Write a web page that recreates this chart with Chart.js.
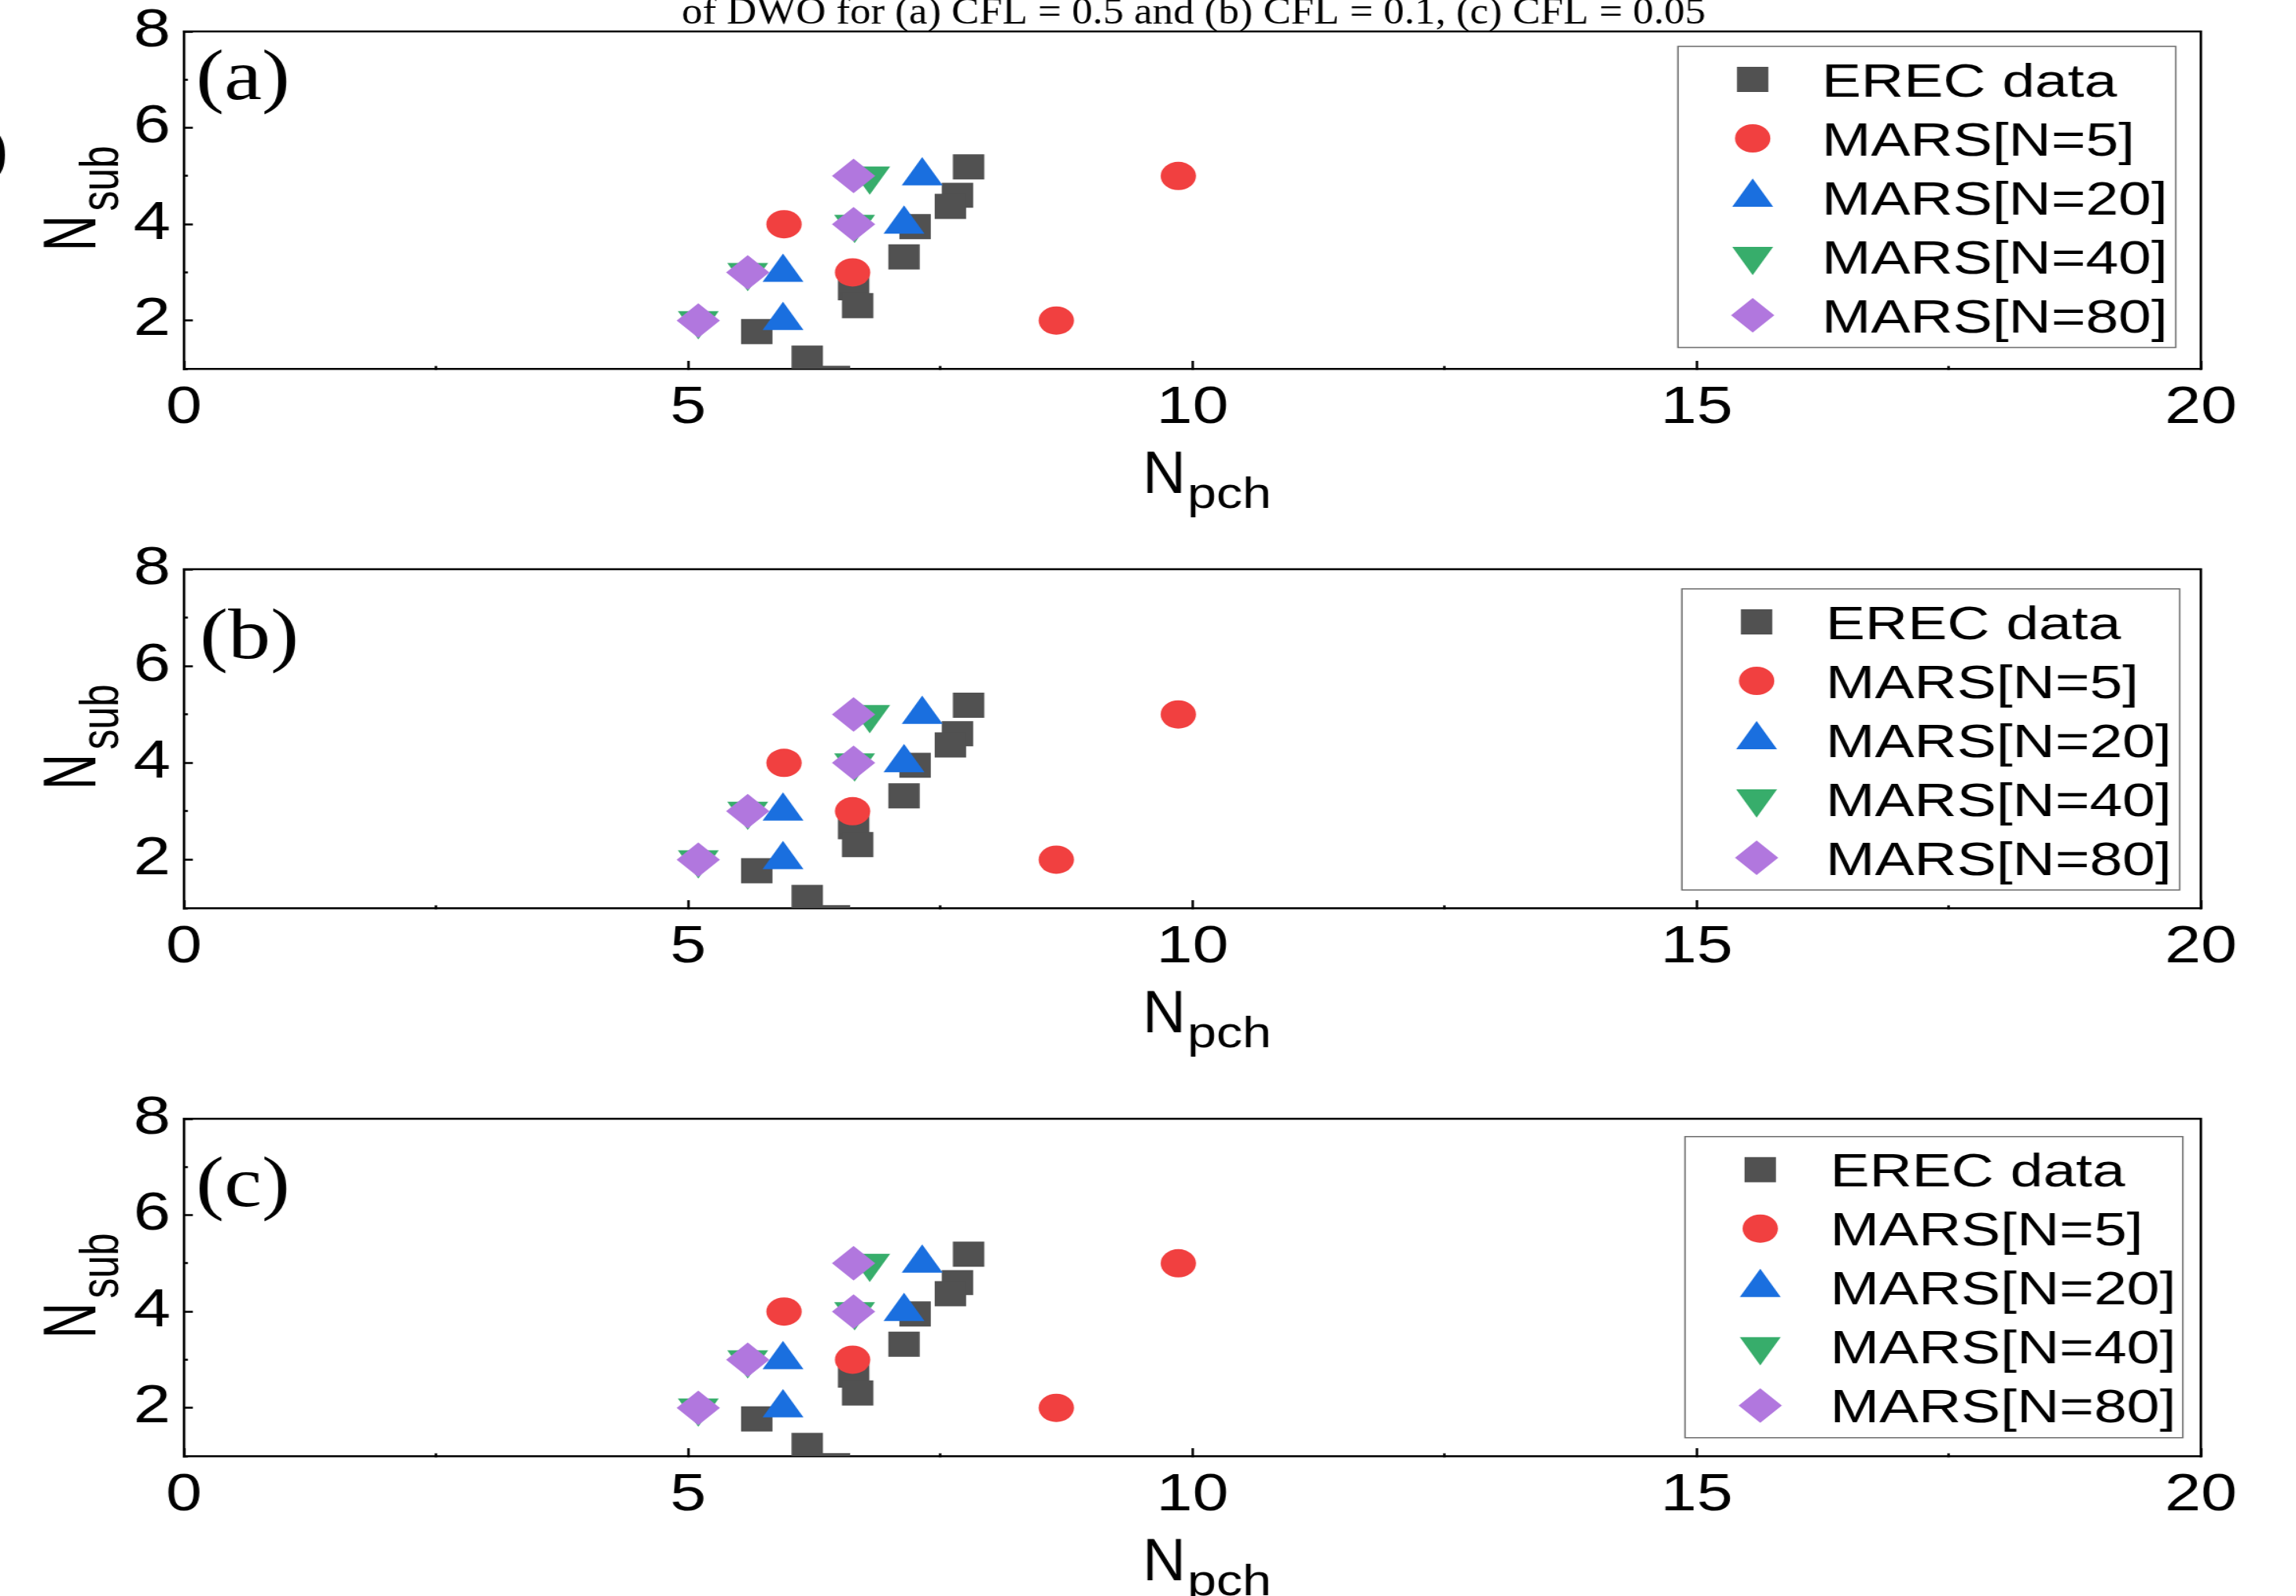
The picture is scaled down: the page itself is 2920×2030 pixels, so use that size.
<!DOCTYPE html>
<html>
<head>
<meta charset="utf-8">
<title>Nsub vs Npch</title>
<script src="https://cdn.jsdelivr.net/npm/chart.js@4/dist/chart.umd.min.js"></script>
<style>
  html, body { margin: 0; padding: 0; background: #ffffff; }
  #page { position: relative; width: 2920px; height: 2030px; overflow: hidden; background: #ffffff; }
  #page canvas { position: absolute; left: 0; }
</style>
</head>
<body>
<div id="page">
  <canvas id="panelA" width="2336" height="680" style="top:0px;width:2920px;height:680px"></canvas>
  <canvas id="panelB" width="2336" height="680" style="top:680px;width:2920px;height:680px"></canvas>
  <canvas id="panelC" width="2336" height="670" style="top:1360px;width:2920px;height:670px"></canvas>
</div>
<script>
// ---- data: (N_pch, N_sub) pairs ----
const erecNpch   = [7.78, 7.67, 7.60, 7.25, 7.14, 6.64, 6.68, 5.68, 6.18, 6.45];
const erecNsub   = [5.19, 4.60, 4.37, 3.95, 3.32, 2.68, 2.31, 1.77, 1.22, 0.80];
const mars5Npch  = [8.65, 6.63, 5.95, 9.86];
const mars5Nsub  = [2, 3, 4, 5];
const mars20Npch = [5.94, 5.94, 7.14, 7.32];
const mars20Nsub = [2, 3, 4, 5];
const mars40Npch = [5.10, 5.59, 6.65, 6.80];
const mars40Nsub = [2, 3, 4, 5];
const mars80Npch = [5.10, 5.59, 6.64, 6.64];
const mars80Nsub = [2, 3, 4, 5];

const seriesLabels = ['EREC data', 'MARS[N=5]', 'MARS[N=20]', 'MARS[N=40]', 'MARS[N=80]'];
const xTickLabels = ['0', '5', '10', '15', '20'];
const yTickLabels = ['2', '4', '6', '8'];
const panelLabels = ['(a)', '(b)', '(c)'];
const headerText = 'of DWO for (a) CFL = 0.5 and (b) CFL = 0.1, (c) CFL = 0.05';

// ---- layout (canvas units; canvases are shown 1.25x wider) ----
const CW = 2336;
const PLOT_LEFT = 187.2;
const PLOT_RIGHT = 2239.2;
const SANS = '"Liberation Sans", Arial, Helvetica, sans-serif';
const SERIF = '"Liberation Serif", "Times New Roman", Times, serif';
Chart.defaults.font.family = SANS;
Chart.defaults.color = '#000';

function pairs(xs, ys) { return xs.map((x, i) => ({ x: x, y: ys[i] })); }

function buildDatasets() {
  const styles = [
    { color: '#515151', pointStyle: 'rect',     radius: 22.6, rotation: 0,   order: 5 },
    { color: '#F14040', pointStyle: 'circle',   radius: 18,   rotation: 0,   order: 4 },
    { color: '#1A6FDF', pointStyle: 'triangle', radius: 24,   rotation: 0,   order: 3 },
    { color: '#37AD6B', pointStyle: 'triangle', radius: 24,   rotation: 180, order: 2 },
    { color: '#B177DE', pointStyle: 'rectRot',  radius: 22,   rotation: 0,   order: 1 }
  ];
  const values = [
    pairs(erecNpch, erecNsub),
    pairs(mars5Npch, mars5Nsub),
    pairs(mars20Npch, mars20Nsub),
    pairs(mars40Npch, mars40Nsub),
    pairs(mars80Npch, mars80Nsub)
  ];
  return styles.map((s, i) => ({
    label: seriesLabels[i],
    data: values[i],
    order: s.order,
    showLine: false,
    backgroundColor: s.color,
    borderColor: s.color,
    pointBackgroundColor: s.color,
    pointBorderColor: s.color,
    pointBorderWidth: 0,
    pointStyle: s.pointStyle,
    pointRadius: s.radius,
    pointHoverRadius: s.radius,
    pointRotation: s.rotation
  }));
}

function markerPath(ctx, style, r, rot, x, y) {
  if (Chart.helpers && Chart.helpers.drawPoint) {
    Chart.helpers.drawPoint(ctx, { pointStyle: style, radius: r, rotation: rot, borderWidth: 0 }, x, y);
    return;
  }
  ctx.beginPath();
  ctx.arc(x, y, r, 0, Math.PI * 2);
  ctx.fill();
}

// frame, in-plot legend, panel tag and axis titles
const panelDecor = {
  id: 'panelDecor',
  afterDraw(chart, args, o) {
    const ctx = chart.ctx;
    const a = chart.chartArea;
    ctx.save();

    // top and right edges of the frame
    ctx.strokeStyle = '#000';
    ctx.lineWidth = 2.5;
    ctx.lineCap = 'square';
    ctx.beginPath();
    ctx.moveTo(a.left, a.top);
    ctx.lineTo(a.right, a.top);
    ctx.lineTo(a.right, a.bottom);
    ctx.stroke();

    // legend box
    const bx = o.legendLeft, by = a.top + o.legendTop;
    ctx.lineWidth = 1.5;
    ctx.strokeStyle = '#6a6a6a';
    ctx.lineCap = 'butt';
    ctx.strokeRect(bx, by, 506.4, 383);
    chart.data.datasets.forEach((ds, i) => {
      const cy = by + 42 + i * 75;
      ctx.fillStyle = ds.pointBackgroundColor;
      markerPath(ctx, ds.pointStyle, ds.pointRadius, ds.pointRotation || 0, bx + o.markerDx, cy);
      ctx.fillStyle = '#000';
      ctx.font = '60px ' + SANS;
      ctx.textAlign = 'left';
      ctx.textBaseline = 'alphabetic';
      ctx.fillText(ds.label, bx + o.textDx, cy + 21.5);
    });

    // panel tag
    ctx.save();
    ctx.translate(o.tagX, a.top + o.tagBaseline);
    ctx.scale(0.96, 1);
    ctx.font = '90px ' + SERIF;
    ctx.fillStyle = '#000';
    ctx.textAlign = 'left';
    ctx.textBaseline = 'alphabetic';
    ctx.fillText(o.tag, 0, 0);
    ctx.restore();

    // x title: N_pch
    ctx.fillStyle = '#000';
    ctx.textAlign = 'left';
    ctx.textBaseline = 'alphabetic';
    ctx.save();
    ctx.translate(1162.4, a.bottom + 158);
    ctx.scale(0.8, 1);
    ctx.font = '76px ' + SANS;
    ctx.fillText('N', 0, 0);
    ctx.restore();
    ctx.save();
    ctx.translate(1208, a.bottom + 177);
    ctx.scale(0.965, 1);
    ctx.font = '55px ' + SANS;
    ctx.fillText('pch', 0, 0);
    ctx.restore();

    // y title: N_sub (rotated)
    const cyMid = (a.top + a.bottom) / 2;
    ctx.save();
    ctx.translate(96.8, cyMid + 65);
    ctx.rotate(-Math.PI / 2);
    ctx.save();
    ctx.scale(0.83, 1);
    ctx.font = '76px ' + SANS;
    ctx.fillText('N', 0, 0);
    ctx.restore();
    ctx.save();
    ctx.translate(51, 23.2);
    ctx.scale(0.94, 1);
    ctx.font = '55px ' + SANS;
    ctx.fillText('sub', 0, 0);
    ctx.restore();
    ctx.restore();

    // caption line above the first panel
    if (o.header) {
      ctx.save();
      ctx.translate(693.6, 30);
      ctx.scale(0.88, 1);
      ctx.font = '48px ' + SERIF;
      ctx.fillText(o.header, 0, 0);
      ctx.restore();
      ctx.save();
      ctx.font = '90px ' + SERIF;
      ctx.fillText(')', -21, 219);
      ctx.restore();
    }
    ctx.restore();
  }
};

function makePanel(id, g) {
  const canvas = document.getElementById(id);
  const H = canvas.height;
  return new Chart(canvas, {
    type: 'scatter',
    data: { datasets: buildDatasets() },
    plugins: [panelDecor],
    options: {
      responsive: false,
      animation: false,
      events: [],
      devicePixelRatio: 1,
      layout: {
        autoPadding: false,
        padding: { left: 0, top: g.top, right: CW - PLOT_RIGHT, bottom: 0 }
      },
      plugins: {
        legend: { display: false },
        tooltip: { enabled: false },
        title: { display: false },
        panelDecor: {
          tag: g.tag,
          tagX: g.tagX,
          tagBaseline: g.tagBaseline,
          legendLeft: g.legendLeft,
          legendTop: g.legendTop,
          markerDx: g.markerDx,
          textDx: g.textDx,
          header: g.header || ''
        }
      },
      scales: {
        x: {
          type: 'linear',
          position: 'bottom',
          min: 0,
          max: 20,
          afterFit: (s) => { s.height = H - g.bottom; s.paddingLeft = 0; s.paddingRight = 0; },
          ticks: {
            stepSize: 2.5,
            autoSkip: false,
            maxRotation: 0,
            minRotation: 0,
            padding: 21,
            color: '#000',
            font: { size: 66, family: SANS },
            callback: (v) => (xTickLabels.includes(String(v)) ? String(v) : '')
          },
          grid: {
            drawOnChartArea: false,
            drawTicks: true,
            tickLength: -10,
            tickWidth: 2.5,
            tickColor: '#000',
            tickBorderDash: (c) => (c.tick && c.tick.value % 5 === 0 ? [] : [5, 60])
          },
          border: { display: true, color: '#000', width: 2.5 },
          title: { display: false }
        },
        y: {
          type: 'linear',
          position: 'left',
          min: 1,
          max: 8,
          afterFit: (s) => { s.width = PLOT_LEFT; s.paddingTop = 0; s.paddingBottom = 0; },
          ticks: {
            stepSize: 1,
            autoSkip: false,
            padding: 22.6,
            color: '#000',
            font: { size: 68, family: SANS },
            callback: (v) => (yTickLabels.includes(String(v)) ? String(v) : '')
          },
          grid: {
            drawOnChartArea: false,
            drawTicks: true,
            tickLength: -9,
            tickWidth: 2.5,
            tickColor: '#000',
            tickBorderDash: (c) => (c.tick && c.tick.value % 2 === 0 ? [] : [0, 5, 6, 60])
          },
          border: { display: true, color: '#000', width: 2.5 },
          title: { display: false }
        }
      }
    }
  });
}

makePanel('panelA', { top: 40, bottom: 469, tag: panelLabels[0], tagX: 199.2, tagBaseline: 86,
  legendLeft: 1707.2, legendTop: 19, markerDx: 76, textDx: 146.4, header: headerText });
makePanel('panelB', { top: 44, bottom: 475, tag: panelLabels[1], tagX: 203.2, tagBaseline: 113,
  legendLeft: 1711.2, legendTop: 25, markerDx: 76, textDx: 146.4 });
makePanel('panelC', { top: 63, bottom: 492, tag: panelLabels[2], tagX: 199.2, tagBaseline: 111,
  legendLeft: 1714.4, legendTop: 22.7, markerDx: 76.5, textDx: 147.6 });
</script>
</body>
</html>
